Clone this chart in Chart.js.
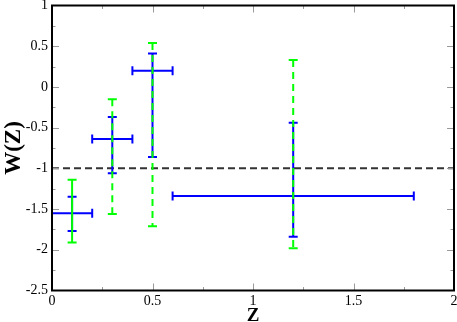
<!DOCTYPE html>
<html><head><meta charset="utf-8">
<script src="https://cdn.jsdelivr.net/npm/chart.js@4/dist/chart.umd.min.js"></script>
<style>html,body{margin:0;padding:0;background:#fff;overflow:hidden}</style>
</head><body>
<canvas id="c" width="457" height="322" style="width:457px;height:322px;display:block"></canvas>
<script>
// ---- data ----
const redshift = [0.1, 0.3, 0.5, 1.2];       // bin centres
const zLow     = [0.0, 0.2, 0.4, 0.6];       // bin lower edges
const zHigh    = [0.2, 0.4, 0.6, 1.8];       // bin upper edges
const wBest    = [-1.55, -0.64, 0.20, -1.34];
const wLow1    = [-1.77, -1.06, -0.86, -1.84]; // blue (inner) error range
const wHigh1   = [-1.35, -0.37, 0.41, -0.44];
const wLow2    = [-1.91, -1.56, -1.71, -1.98]; // green (outer) error range
const wHigh2   = [-1.14, -0.15, 0.54, 0.33];
const wReference = -1;
const xTickValues = [0, 0.5, 1, 1.5, 2];
const xTickLabels = ['0', '0.5', '1', '1.5', '2'];
const yTickValues = [-2.5, -2, -1.5, -1, -0.5, 0, 0.5, 1];
const yTickLabels = ['-2.5', '-2', '-1.5', '-1', '-0.5', '0', '0.5', '1'];

const SERIF = '"Liberation Serif", "DejaVu Serif", serif';

const errorBars = {
  id: 'errorBars',
  afterDatasetsDraw(chart) {
    const ctx = chart.ctx, xs = chart.scales.x, ys = chart.scales.y;
    ctx.save();
    ctx.lineCap = 'butt';
    // blue: horizontal bins and inner vertical range
    ctx.strokeStyle = '#0000ff';
    ctx.lineWidth = 2;
    for (let i = 0; i < redshift.length; i++) {
      const y = ys.getPixelForValue(wBest[i]);
      const xl = xs.getPixelForValue(zLow[i]), xh = xs.getPixelForValue(zHigh[i]);
      const xc = xs.getPixelForValue(redshift[i]);
      const yl = ys.getPixelForValue(wLow1[i]), yh = ys.getPixelForValue(wHigh1[i]);
      ctx.beginPath();
      ctx.moveTo(xl, y); ctx.lineTo(xh, y);
      ctx.moveTo(xl, y - 4.5); ctx.lineTo(xl, y + 4.5);
      ctx.moveTo(xh, y - 4.5); ctx.lineTo(xh, y + 4.5);
      ctx.moveTo(xc, yl); ctx.lineTo(xc, yh);
      ctx.moveTo(xc - 4.5, yl); ctx.lineTo(xc + 4.5, yl);
      ctx.moveTo(xc - 4.5, yh); ctx.lineTo(xc + 4.5, yh);
      ctx.stroke();
    }
    // green: outer vertical range
    ctx.strokeStyle = '#00ff00';
    for (let i = 0; i < redshift.length; i++) {
      const xc = xs.getPixelForValue(redshift[i]);
      const yl = ys.getPixelForValue(wLow2[i]), yh = ys.getPixelForValue(wHigh2[i]);
      ctx.setLineDash(i === 0 ? [] : [7, 5]);
      ctx.beginPath();
      ctx.moveTo(xc, yh); ctx.lineTo(xc, yl);
      ctx.stroke();
      ctx.setLineDash([]);
      ctx.beginPath();
      ctx.moveTo(xc - 4.5, yl); ctx.lineTo(xc + 4.5, yl);
      ctx.moveTo(xc - 4.5, yh); ctx.lineTo(xc + 4.5, yh);
      ctx.stroke();
    }
    ctx.restore();
  },
  afterDraw(chart) {
    const ctx = chart.ctx, a = chart.chartArea, xs = chart.scales.x, ys = chart.scales.y;
    ctx.save();
    // tick marks (inward, all four sides)
    ctx.strokeStyle = '#9a9a9a';
    ctx.lineWidth = 1;
    ctx.beginPath();
    for (let v = 0.25; v < 2; v += 0.25) {
      const major = Math.abs(v * 2 - Math.round(v * 2)) < 1e-6;
      const L = major ? 7 : 3.5;
      const x = Math.round(xs.getPixelForValue(v)) + 0.5;
      ctx.moveTo(x, a.bottom); ctx.lineTo(x, a.bottom - L);
      ctx.moveTo(x, a.top); ctx.lineTo(x, a.top + L);
    }
    for (let v = -2.25; v < 1; v += 0.25) {
      const major = Math.abs(v * 2 - Math.round(v * 2)) < 1e-6;
      const L = major ? 7 : 3.5;
      const y = Math.round(ys.getPixelForValue(v)) + 0.5;
      ctx.moveTo(a.left, y); ctx.lineTo(a.left + L, y);
      ctx.moveTo(a.right, y); ctx.lineTo(a.right - L, y);
    }
    ctx.stroke();
    // frame
    ctx.strokeStyle = '#000';
    ctx.lineWidth = 2;
    ctx.strokeRect(a.left, a.top, a.right - a.left, a.bottom - a.top);
    ctx.restore();
  }
};

new Chart(document.getElementById('c'), {
  type: 'scatter',
  data: {
    datasets: [
      {
        data: [{x: 0, y: wReference}, {x: 2, y: wReference}],
        showLine: true,
        borderColor: '#333333',
        borderWidth: 2,
        borderDash: [7, 4],
        pointRadius: 0
      },
      {
        data: redshift.map((z, i) => ({x: z, y: wBest[i]})),
        pointRadius: 0,
        borderColor: '#0000ff',
        backgroundColor: '#0000ff'
      }
    ]
  },
  options: {
    responsive: false,
    devicePixelRatio: 1,
    animation: false,
    events: [],
    layout: {padding: {top: 5.5, right: 3, left: 0, bottom: 0}},
    plugins: {legend: {display: false}, tooltip: {enabled: false}},
    scales: {
      x: {
        type: 'linear', min: 0, max: 2,
        afterBuildTicks: s => { s.ticks = xTickValues.map(v => ({value: v})); },
        afterFit: s => { s.height = 31.5; s.paddingLeft = 0; s.paddingRight = 0; },
        grid: {display: false, drawTicks: false},
        border: {display: false},
        ticks: {
          color: '#000', padding: 2, maxRotation: 0, autoSkip: false,
          font: {family: SERIF, size: 14},
          callback: (v) => xTickLabels[xTickValues.indexOf(v)]
        },
        title: {display: true, text: 'Z', color: '#000', padding: {top: 0, bottom: 0},
          font: {family: SERIF, size: 19, weight: 'bold', lineHeight: 0.6}}
      },
      y: {
        type: 'linear', min: -2.5, max: 1,
        afterBuildTicks: s => { s.ticks = yTickValues.map(v => ({value: v})); },
        afterFit: s => { s.width = 52; s.paddingTop = 0; s.paddingBottom = 0; },
        grid: {display: false, drawTicks: false},
        border: {display: false},
        ticks: {
          color: '#000', padding: 4, autoSkip: false,
          font: {family: SERIF, size: 14},
          callback: (v) => yTickLabels[yTickValues.indexOf(v)]
        },
        title: {display: true, text: 'W(Z)', color: '#000', padding: {top: 3, bottom: 0},
          font: {family: SERIF, size: 23, weight: 'bold', lineHeight: 1}}
      }
    }
  },
  plugins: [errorBars]
});
</script>
</body></html>
